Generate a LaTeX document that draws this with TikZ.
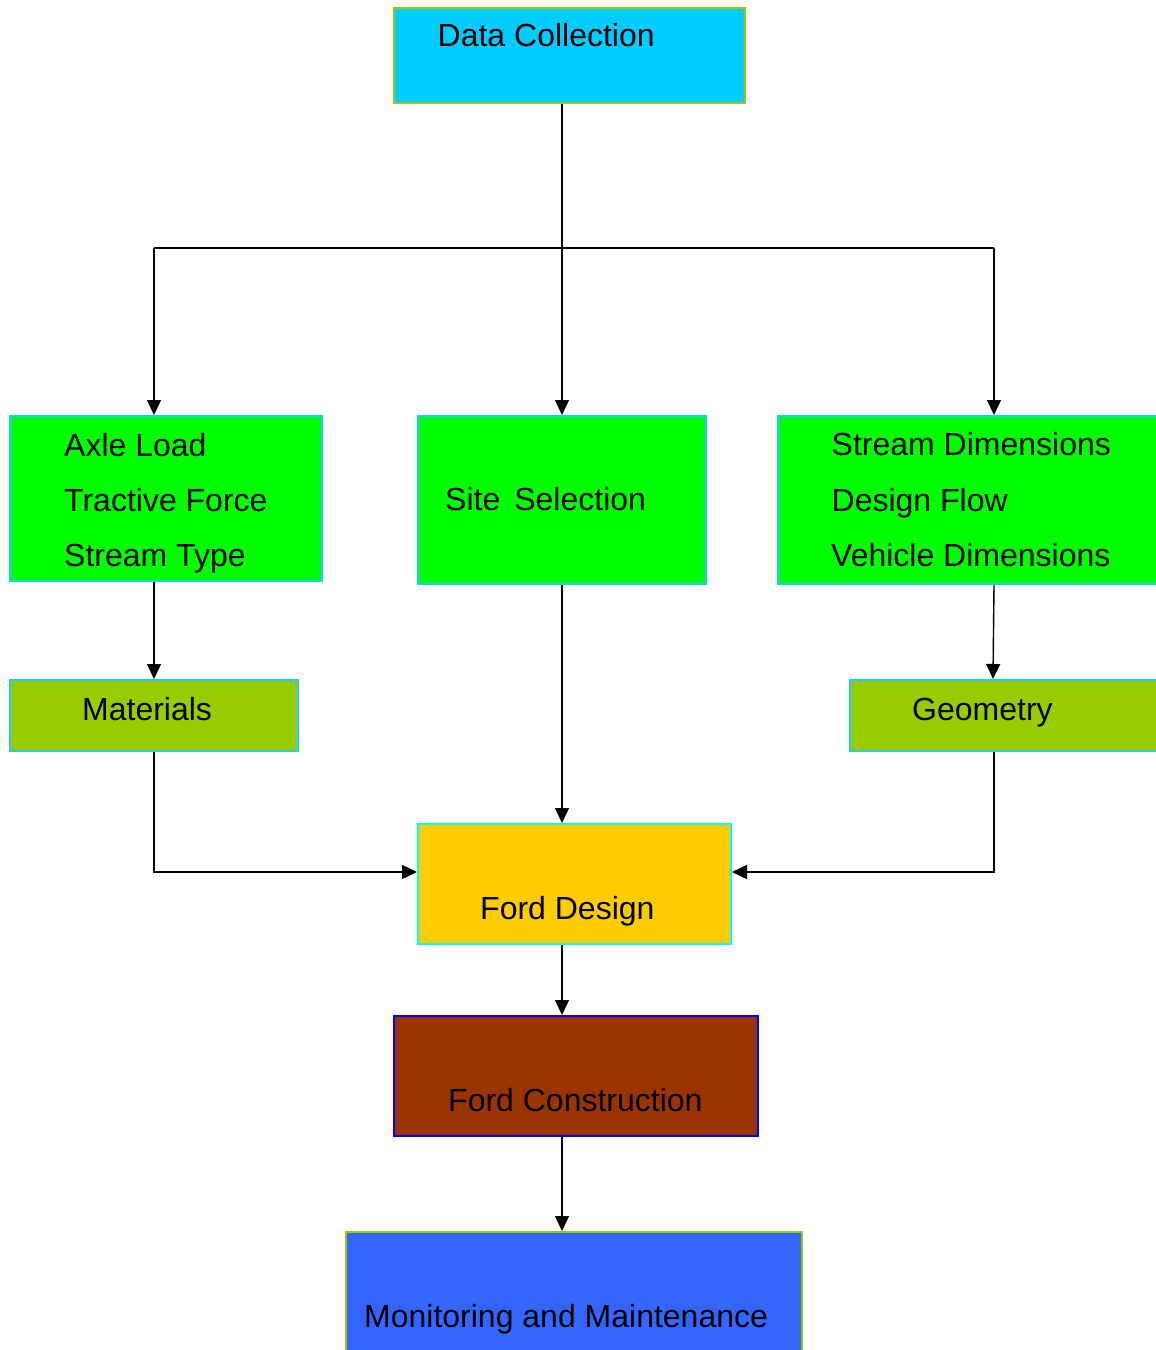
\documentclass[tikz,border=0pt]{standalone}
\usepackage{fontspec}
\setmainfont{Liberation Sans}
\usetikzlibrary{arrows.meta}
\definecolor{skyfill}{HTML}{00CCFF}
\definecolor{limeline}{HTML}{99CC00}
\definecolor{greenfill}{HTML}{00FF00}
\definecolor{cyanline}{HTML}{1FCCFF}
\definecolor{olivefill}{HTML}{99CC00}
\definecolor{goldfill}{HTML}{FFCC00}
\definecolor{aqualine}{HTML}{00FFFF}
\definecolor{brownfill}{HTML}{993300}
\definecolor{blueline}{HTML}{0000FF}
\definecolor{royalfill}{HTML}{3366FF}
\tikzset{
  box/.style={rectangle, inner sep=0pt, line width=2pt},
  lbl/.style={anchor=base west, inner sep=0pt, text=black,
    font=\fontsize{32}{38}\selectfont},
  arr/.style={line width=1.4pt, -{Triangle[length=15pt,width=14pt]}},
  wire/.style={line width=1.4pt}
}
\begin{document}
\begin{tikzpicture}[x=1pt,y=-1pt]
\clip (0,0) rectangle (1156,1350);
\fill[white] (0,0) rectangle (1156,1350);

% guide coordinates for connector columns and rows
\coordinate (cl) at (154,0);
\coordinate (cm) at (562,0);
\coordinate (cr) at (994,0);
\coordinate (bus) at (0,248);
\coordinate (ch) at (0,872);

% boxes
\node[box, fill=skyfill, draw=limeline, line width=2.5pt,
  minimum width=351pt, minimum height=95pt] (dc) at (569.5,55.5) {};
\node[box, fill=greenfill, draw=cyanline,
  minimum width=312pt, minimum height=165pt] (axle) at (166,498.5) {};
\node[box, fill=greenfill, draw=cyanline,
  minimum width=288pt, minimum height=168pt] (site) at (562,500) {};
\node[box, fill=greenfill, draw=cyanline,
  minimum width=432pt, minimum height=168pt] (dims) at (994,500) {};
\node[box, fill=olivefill, draw=cyanline,
  minimum width=288pt, minimum height=71pt] (mat) at (154,715.5) {};
\node[box, fill=olivefill, draw=cyanline,
  minimum width=320pt, minimum height=71pt] (geo) at (1010,715.5) {};
\node[box, fill=goldfill, draw=aqualine,
  minimum width=313pt, minimum height=120pt] (fd) at (574.5,884) {};
\node[box, fill=brownfill, draw=blueline,
  minimum width=364pt, minimum height=120pt] (fc) at (576,1076) {};
\node[box, fill=royalfill, draw=limeline,
  minimum width=456pt, minimum height=124pt] (mon) at (574,1294) {};

% labels
\node[lbl] (tdc) at (437.5,46) {Data Collection};
\node[lbl] (ta1) at (64,456) {Axle Load};
\node[lbl] (ta2) at (64,511) {Tractive Force};
\node[lbl] (ta3) at (64,566) {Stream Type};
\node[lbl] (tss) at (445,510) {Site\hspace{14pt}Selection};
\node[lbl] (td1) at (831.5,455) {Stream Dimensions};
\node[lbl] (td2) at (831.5,511) {Design Flow};
\node[lbl] (td3) at (831,566) {Vehicle Dimensions};
\node[lbl] (tmat) at (82,720.5) {Materials};
\node[lbl] (tgeo) at (912,720) {Geometry};
\node[lbl] (tfd) at (480,919) {Ford Design};
\node[lbl] (tfc) at (448,1111) {Ford Construction};
\node[lbl] (tmon) at (364,1327) {Monitoring and Maintenance};

% connectors
\draw[arr] (dc.south -| cm) -- (site.north -| cm);
\draw[wire] (cl |- bus) -- (cr |- bus);
\draw[arr] (cl |- bus) -- (axle.north -| cl);
\draw[arr] (cr |- bus) -- (dims.north -| cr);
\draw[arr] (axle.south -| cl) -- (mat.north -| cl);
\draw[arr] (dims.south -| cr) -- ([xshift=-1pt]geo.north -| cr);
\draw[arr] (site.south -| cm) -- (fd.north -| cm);
\draw[arr] (mat.south -| cl) |- (fd.west |- ch);
\draw[arr] (geo.south -| cr) |- (fd.east |- ch);
\draw[arr] (fd.south -| cm) -- (fc.north -| cm);
\draw[arr] (fc.south -| cm) -- (mon.north -| cm);
\end{tikzpicture}
\end{document}
